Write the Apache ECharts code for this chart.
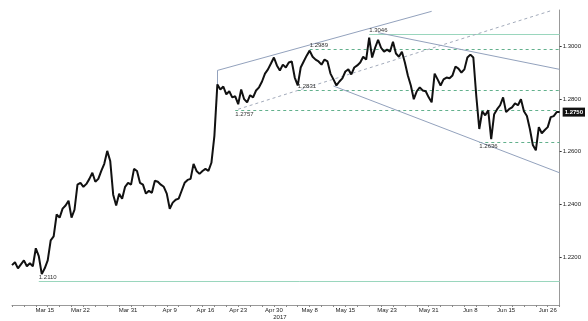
<!DOCTYPE html>
<html>
<head>
<meta charset="utf-8">
<script src="https://cdn.jsdelivr.net/npm/echarts@6/dist/echarts.min.js"></script>
<style>html,body{margin:0;padding:0;background:#fff}#c{width:588px;height:321px}</style>
</head>
<body>
<div id="c"></div>
<script>
// GBP/USD closes, sampled evenly across trading time (Mar 9 - Jun 27, 2017)
const closes = [
1.2170,1.2181,1.2158,1.2173,1.2188,1.2166,1.2177,1.2166,1.2234,1.2204,
1.2136,1.2158,1.2188,1.2264,1.2279,1.2362,1.2350,1.2384,1.2396,1.2414,
1.2350,1.2380,1.2475,1.2482,1.2467,1.2478,1.2497,1.2520,1.2486,1.2497,
1.2527,1.2554,1.2603,1.2565,1.2437,1.2396,1.2441,1.2422,1.2467,1.2482,
1.2475,1.2535,1.2527,1.2482,1.2475,1.2441,1.2452,1.2444,1.2490,1.2486,
1.2475,1.2467,1.2441,1.2384,1.2407,1.2418,1.2422,1.2452,1.2482,1.2493,
1.2497,1.2554,1.2527,1.2516,1.2527,1.2535,1.2527,1.2558,1.2660,1.2855,
1.2836,1.2847,1.2817,1.2829,1.2806,1.2810,1.2780,1.2836,1.2799,1.2787,
1.2814,1.2806,1.2832,1.2844,1.2866,1.2896,1.2912,1.2934,1.2957,1.2927,
1.2908,1.2930,1.2919,1.2938,1.2942,1.2881,1.2851,1.2919,1.2942,1.2964,
1.2983,1.2960,1.2949,1.2942,1.2930,1.2949,1.2942,1.2896,1.2874,1.2851,
1.2866,1.2878,1.2904,1.2912,1.2893,1.2919,1.2927,1.2938,1.2960,1.2949,
1.3032,1.2957,1.2994,1.3024,1.2994,1.2979,1.2987,1.2979,1.3017,1.2972,
1.2960,1.2979,1.2938,1.2889,1.2851,1.2799,1.2829,1.2844,1.2832,1.2829,
1.2806,1.2787,1.2896,1.2874,1.2851,1.2874,1.2881,1.2878,1.2889,1.2923,
1.2915,1.2900,1.2912,1.2957,1.2968,1.2957,1.2810,1.2686,1.2753,1.2738,
1.2757,1.2648,1.2742,1.2761,1.2776,1.2806,1.2750,1.2761,1.2768,1.2783,
1.2776,1.2799,1.2753,1.2735,1.2686,1.2625,1.2605,1.2693,1.2670,1.2682,
1.2693,1.2731,1.2735,1.2750,1.2750
];
const categories = closes.map((_, i) => String(i));
// tick labels: [category index, text]
const tickLabels = [
[11,'Mar 15'],[23,'Mar 22'],[39,'Mar 31'],[53,'Apr 9'],[65,'Apr 16'],
[76,'Apr 23'],[88,'Apr 30'],[100,'May 8'],[112,'May 15'],[126,'May 23'],
[140,'May 31'],[154,'Jun 8'],[166,'Jun 15'],[180,'Jun 26']
];
const yearLabel = '2017';
const yTicks = [1.22, 1.24, 1.26, 1.28, 1.30];
const lastValue = 1.2750;
// horizontal levels: [start index, level, solid?, labelAbove?]
const levels = [
[9, 1.2110, true, true],
[75, 1.2757, false, false],
[96, 1.2831, false, true],
[100, 1.2989, false, true],
[120, 1.3046, true, true],
[157, 1.2636, false, false]
];
// trend lines: [[i1, v1], [i2, v2], dashed?]
const trends = [
[[69, 1.2848], [69, 1.2908], false],
[[69, 1.2908], [141, 1.3132], false],
[[76, 1.2761], [181, 1.3134], true],
[[123, 1.3051], [184, 1.2912], false],
[[108, 1.2849], [184, 1.2520], false]
];

const labelMap = {};
tickLabels.forEach(([i, t]) => { labelMap[i] = t; });
const lastIdx = closes.length - 1;
const FONT = 'Liberation Sans';

const levelSeries = levels.map(([i, v, solid, above]) => {
  const ls = {color: solid ? '#9ad6bd' : '#62b08c', type: solid ? 'solid' : [3, 3], width: 1, opacity: 1};
  return {
    type: 'line', data: [], silent: true, z: 2,
    markLine: {symbol: 'none', silent: true, animation: false, lineStyle: ls,
      label: {show: true, formatter: v.toFixed(4), position: above ? 'insideStartTop' : 'insideStartBottom',
              distance: [0, 1], fontSize: 6, fontFamily: FONT, color: '#333', padding: 0},
      data: [[{coord: [i, v]}, {coord: [lastIdx, v]}]]}
  };
});
const trendSeries = {
  type: 'line', data: [], silent: true, z: 2,
  markLine: {symbol: 'none', silent: true, animation: false,
    lineStyle: {color: '#93a2bd', type: 'solid', width: 1}, label: {show: false},
    data: trends.map(([a, b, dashed]) => [
      {coord: a, lineStyle: {color: dashed ? '#a3abbb' : '#93a2bd', type: dashed ? [3, 3] : 'solid', width: 1}},
      {coord: b, lineStyle: {color: dashed ? '#a3abbb' : '#93a2bd', type: dashed ? [3, 3] : 'solid', width: 1}}
    ])}
};

const chart = echarts.init(document.getElementById('c'), null, {renderer: 'canvas'});
chart.setOption({
  animation: false,
  backgroundColor: '#fff',
  grid: {left: 12, right: 24, top: 10, bottom: 14, containLabel: false},
  xAxis: {
    type: 'category', data: categories, boundaryGap: false,
    axisLine: {lineStyle: {color: '#999', width: 1}},
    axisTick: {show: true, length: 2, interval: (i) => i % 4 === 0, lineStyle: {color: '#888'}},
    axisLabel: {
      interval: (i) => labelMap[i] !== undefined,
      formatter: (val, i) => labelMap[i] === 'Apr 30' ? 'Apr 30\n{y|' + yearLabel + '}' : (labelMap[i] || ''),
      fontSize: 6, fontFamily: FONT, color: '#222', margin: 2, lineHeight: 7,
      rich: {y: {fontSize: 6, fontFamily: FONT, color: '#222', padding: [0, 0, 0, 12], lineHeight: 7}}
    },
    splitLine: {show: false}
  },
  yAxis: [{
    type: 'value', position: 'right', min: 1.2019, max: 1.3137, scale: true,
    axisLine: {show: true, lineStyle: {color: '#999', width: 1}},
    axisTick: {show: true, length: 2, customValues: yTicks, lineStyle: {color: '#333'}},
    axisLabel: {customValues: yTicks, formatter: (v) => v.toFixed(4), fontSize: 6, fontFamily: FONT, color: '#222', margin: 3},
    splitLine: {show: false}
  }, {
    type: 'value', position: 'right', min: 1.2019, max: 1.3137, scale: true,
    axisLine: {show: false}, axisTick: {show: false}, splitLine: {show: false},
    axisLabel: {customValues: [lastValue], formatter: (v) => v.toFixed(4), fontSize: 6, fontFamily: FONT,
      fontWeight: 'bold', color: '#fff', backgroundColor: '#111', padding: [2, 2, 1, 2], margin: 3}
  }],
  series: [
    ...levelSeries,
    trendSeries,
    {
      type: 'line', data: closes, showSymbol: false, symbol: 'none',
      lineStyle: {color: '#111', width: 2}, z: 5
    }
  ]
});
</script>
</body>
</html>
